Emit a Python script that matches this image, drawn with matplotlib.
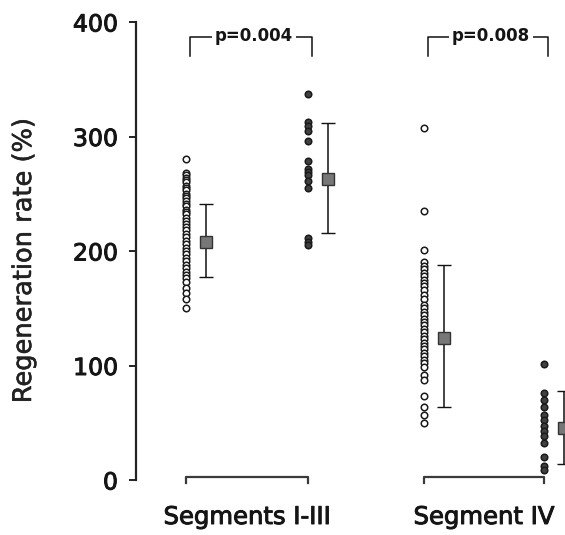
import matplotlib
matplotlib.use("Agg")
import matplotlib.pyplot as plt
import matplotlib.patheffects as pe
import numpy as np

# ---- data ----
groups = ["Segments I-III", "Segment IV"]
seg13_open = [280, 268, 266, 264, 262, 260, 257, 255, 253, 250, 248, 246, 244, 241,
              239, 236, 234, 232, 229, 226, 224, 221, 218, 215, 212, 209, 206, 203,
              200, 197, 194, 191, 188, 185, 182, 179, 176, 173, 168, 163, 158, 150]
seg13_filled = [337, 313, 309, 305, 296, 279, 272, 269, 266, 261, 255, 211, 208, 205]
seg4_open = [307, 235, 201, 190, 187, 184, 181, 178, 175, 172, 169, 166, 162, 158,
             153, 150, 147, 144, 141, 138, 135, 132, 129, 126, 123, 120, 117, 114,
             111, 108, 105, 102, 99, 92, 87, 73, 64, 57, 50]
seg4_filled = [101, 76, 70, 64, 57, 52, 47, 43, 38, 32, 20, 12, 9]

means = [208, 263, 124, 45]
err_low = [177, 216, 64, 14]
err_high = [241, 312, 188, 78]
p_labels = ["p=0.004", "p=0.008"]
yticks = [0, 100, 200, 300, 400]

# ---- layout ----
positions = [186, 308, 424, 544]
mean_offset = 20

W, H = 565, 535
fig = plt.figure(figsize=(W / 100, H / 100), dpi=100)
ax = fig.add_axes([136 / W, 55 / H, (W - 136) / W, 458 / H])
ax.set_xlim(136, 565)
ax.set_ylim(0, 400)

txt = "#151515"
heavy = [pe.withStroke(linewidth=0.7, foreground=txt)]

series = [seg13_open, seg13_filled, seg4_open, seg4_filled]
for i, vals in enumerate(series):
    filled = i % 2 == 1
    ax.scatter(np.full(len(vals), positions[i]), vals, s=22,
               facecolor="#404040" if filled else "white",
               edgecolor="#1a1a1a", linewidth=1.1, zorder=3, clip_on=False)

mx = np.array(positions) + mean_offset
m = np.array(means)
yerr = np.vstack([m - np.array(err_low), np.array(err_high) - m])
ax.errorbar(mx, m, yerr=yerr, fmt="s", ms=8, mfc="#777777", mec="#333333",
            mew=1, ecolor="#111111", elinewidth=1.1, capsize=5, capthick=1.1,
            zorder=4, clip_on=False)

# bottom group brackets
for g in range(2):
    x0, x1 = positions[2 * g], positions[2 * g + 1]
    ax.plot([x0, x0, x1, x1], [-3, 2.5, 2.5, -3], color="#3a3a3a", lw=1.6,
            clip_on=False, zorder=2)

# top significance brackets
for g in range(2):
    x0, x1 = positions[2 * g] + 4, positions[2 * g + 1] + 4
    ax.plot([x0, x0, x1, x1], [370, 387, 387, 370], color="#111111", lw=1.1,
            clip_on=False, zorder=2)
    ax.text((x0 + x1) / 2 + 3, 387.5, p_labels[g], ha="center", va="center",
            fontsize=12, fontweight="bold", color=txt, zorder=5,
            bbox=dict(boxstyle="square,pad=0.15", fc="white", ec="none"))

for s in ["top", "right", "bottom"]:
    ax.spines[s].set_visible(False)
ax.spines["left"].set_linewidth(1.6)
ax.spines["left"].set_color("#222222")

ax.set_yticks(yticks)
ax.set_yticklabels([str(v) for v in yticks])
ax.tick_params(axis="y", length=5, width=1.4, color="#222222", pad=8,
               labelsize=17, labelcolor=txt)
ax.set_xticks([(positions[0] + positions[1]) / 2, (positions[2] + positions[3]) / 2])
ax.set_xticklabels(groups)
ax.tick_params(axis="x", length=0, pad=18, labelsize=17.5, labelcolor=txt)
for lab in ax.get_xticklabels() + ax.get_yticklabels():
    lab.set_path_effects(heavy)

fig.text(24 / W, 0.514, "Regeneration rate (%)", rotation=90, ha="center",
         va="center", fontsize=18.5, color="#222222",
         path_effects=[pe.withStroke(linewidth=0.4, foreground="#222222")])

fig.savefig("out.png", dpi=100)
